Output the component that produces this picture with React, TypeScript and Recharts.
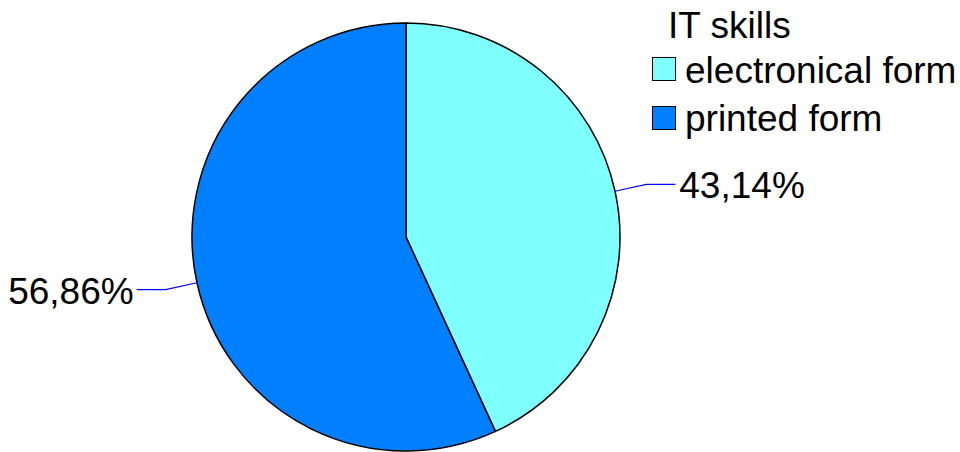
import { PieChart, Pie, Cell, Legend } from "recharts";

const categories = ["electronical form", "printed form"];
const shares = [43.14, 56.86];
const colors = ["#80FFFF", "#0080FF"];
const legendTitle = "IT skills";

const data = categories.map((name, i) => ({ name, value: shares[i] }));

const FONT = "'Liberation Sans', Arial, sans-serif";
const RAD = Math.PI / 180;

function renderLabel(props: any) {
  const { cx, cy, midAngle, outerRadius, value } = props;
  const cos = Math.cos(-midAngle * RAD);
  const sin = Math.sin(-midAngle * RAD);
  const sx = cx + outerRadius * cos;
  const sy = cy + outerRadius * sin;
  const mx = cx + (outerRadius + 32) * cos;
  const my = cy + (outerRadius + 32) * sin;
  const right = cos >= 0;
  const ex = mx + (right ? 29 : -29);
  const text = value.toFixed(2).replace(".", ",") + "%";
  return (
    <g>
      <polyline
        points={`${sx},${sy} ${mx},${my} ${ex},${my}`}
        fill="none"
        stroke="#0000FF"
        strokeWidth={1.2}
      />
      <text
        x={ex + (right ? 4 : -3)}
        y={my + 14}
        textAnchor={right ? "start" : "end"}
        fontFamily={FONT}
        fontSize={37}
        fill="#000"
      >
        {text}
      </text>
    </g>
  );
}

function LegendBox({ payload }: any) {
  const items = payload || [];
  return (
    <svg width={320} height={145} style={{ display: "block" }}>
      <text x={28} y={38} fontFamily={FONT} fontSize={37} fill="#000">
        {legendTitle}
      </text>
      {items.map((entry: any, i: number) => (
        <g key={entry.value}>
          <rect
            x={12.5}
            y={57.5 + i * 49}
            width={23}
            height={23}
            fill={entry.color}
            stroke="#000"
            strokeWidth={1}
          />
          <text x={45} y={83 + i * 48} fontFamily={FONT} fontSize={37} fill="#000">
            {entry.value}
          </text>
        </g>
      ))}
    </svg>
  );
}

export default function App() {
  return (
    <div style={{ position: "absolute", left: 0, top: 0, width: 960, height: 452, background: "#fff" }}>
      <PieChart width={960} height={452} margin={{ top: 0, right: 0, bottom: 0, left: 0 }}>
        <Pie
          data={data}
          dataKey="value"
          nameKey="name"
          cx={406}
          cy={237}
          outerRadius={214}
          startAngle={90}
          endAngle={-270}
          stroke="#000"
          strokeWidth={1.5}
          label={renderLabel}
          labelLine={false}
          isAnimationActive={false}
        >
          {data.map((d, i) => (
            <Cell key={d.name} fill={colors[i]} />
          ))}
        </Pie>
        <Legend
          content={<LegendBox />}
          wrapperStyle={{ position: "absolute", left: 640, top: 0, width: 320, height: 145 }}
        />
      </PieChart>
    </div>
  );
}
